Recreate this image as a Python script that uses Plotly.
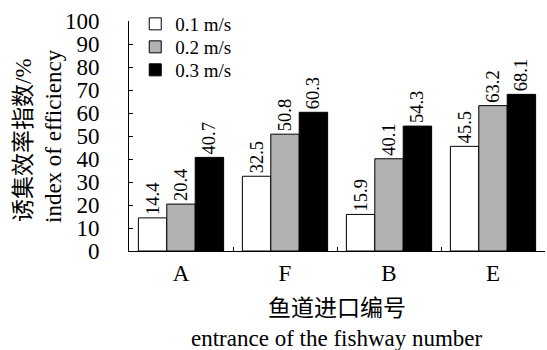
import plotly.graph_objects as go

categories = ["A", "F", "B", "E"]
series_names = ["0.1 m/s", "0.2 m/s", "0.3 m/s"]
v01 = [14.4, 32.5, 15.9, 45.5]
v02 = [20.4, 50.8, 40.1, 63.2]
v03 = [40.7, 60.3, 54.3, 68.1]
y_ticks = list(range(0, 101, 10))

colors = ["#ffffff", "#b2b2b2", "#000000"]
FONT = "Liberation Serif, Times New Roman, Noto Sans CJK SC"

fig = go.Figure()
legend_ids = ["legend", "legend2", "legend3"]
for name, vals, col, lg in zip(series_names, [v01, v02, v03], colors, legend_ids):
    fig.add_trace(go.Bar(
        x=categories, y=vals, name=name, legend=lg,
        marker=dict(color=col, line=dict(color="black", width=1)),
        text=[f"{v:.1f}" for v in vals],
        textposition="outside", textangle=-90,
        textfont=dict(family=FONT, size=18.5, color="black"),
        constraintext="none", cliponaxis=False,
    ))

PT, PB = 21, 251
def ypaper(px):
    return (PB - px) / (PB - PT)

leg_common = dict(x=0.015, xanchor="left", yanchor="middle",
                  bgcolor="rgba(0,0,0,0)", font=dict(size=19, family=FONT),
                  itemwidth=30)

fig.update_layout(
    template="none",
    width=547, height=350,
    margin=dict(l=129, r=2, t=PT, b=350 - PB, pad=0),
    plot_bgcolor="white", paper_bgcolor="white",
    barmode="group", bargap=0.18, bargroupgap=0,
    font=dict(family=FONT, size=23, color="black"),
    showlegend=True,
    legend=dict(y=ypaper(24), **leg_common),
    legend2=dict(y=ypaper(47), **leg_common),
    legend3=dict(y=ypaper(70), **leg_common),
    xaxis=dict(
        type="category", showline=True, linecolor="black", linewidth=1,
        ticks="inside", ticklen=4, tickson="boundaries", tickcolor="black",
        showgrid=False, tickfont=dict(size=23), ticklabelstandoff=1,
        automargin=False, zeroline=False,
    ),
    yaxis=dict(
        range=[0, 100], tickvals=y_ticks, ticktext=[str(t) for t in y_ticks],
        showline=True, linecolor="black", linewidth=1,
        ticks="inside", ticklen=4, tickcolor="black",
        showgrid=False, zeroline=False, tickfont=dict(size=23),
        ticklabelstandoff=24, automargin=False,
    ),
    annotations=[
        dict(text="诱集效率指数/%", xref="paper", yref="paper",
             x=0, y=ypaper(140), xanchor="center", yanchor="middle", xshift=-106,
             textangle=-90, showarrow=False, font=dict(size=23)),
        dict(text="index of efficiency", xref="paper", yref="paper",
             x=0, y=ypaper(136), xanchor="center", yanchor="middle", xshift=-76,
             textangle=-90, showarrow=False, font=dict(size=23)),
        dict(text="鱼道进口编号", xref="paper", yref="paper",
             x=0.5, y=0, xanchor="center", yanchor="middle", yshift=-57,
             showarrow=False, font=dict(size=23)),
        dict(text="entrance of the fishway number", xref="paper", yref="paper",
             x=0.5, y=0, xanchor="center", yanchor="middle", yshift=-87,
             showarrow=False, font=dict(size=23)),
    ],
)

fig.write_html("out.html", config={"displayModeBar": False},
               post_script="document.body.style.margin='0';")
